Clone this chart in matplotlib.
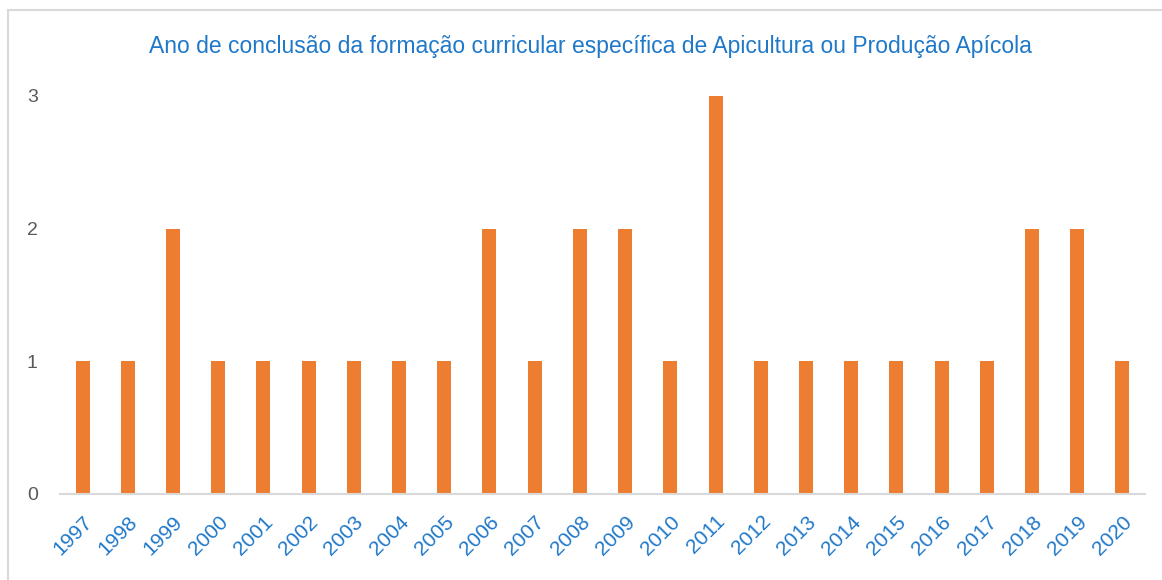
import matplotlib.pyplot as plt
from matplotlib.patches import Rectangle

anos = [str(a) for a in range(1997, 2021)]
contagem = [1, 1, 2, 1, 1, 1, 1, 1, 1, 2, 1, 2, 2, 1, 3, 1, 1, 1, 1, 1, 1, 2, 2, 1]

plt.rcParams['font.family'] = ['Liberation Sans', 'DejaVu Sans']

fig = plt.figure(figsize=(11.62, 5.8), dpi=100)
ax = fig.add_axes([0.0516, 0.1483, 0.9338, 0.6862])

ax.bar(range(len(anos)), contagem, width=0.31, color='#ED7D31')
ax.set_xlim(-0.5, len(anos) - 0.5)
ax.set_ylim(0, 3)
ax.set_yticks([0, 1, 2, 3])
ax.set_xticks(range(len(anos)))
ax.set_xticklabels(anos, rotation=45, ha='right', rotation_mode='anchor',
                   color='#1F78C8', fontsize=15)
ax.tick_params(axis='y', colors='#595959', labelsize=14, length=0, pad=16)
ax.tick_params(axis='x', length=0, pad=13)

for s in ['top', 'right', 'left']:
    ax.spines[s].set_visible(False)
ax.spines['bottom'].set_color('#D9D9D9')
ax.spines['bottom'].set_linewidth(1.5)

fig.text(0.508, 0.919, 'Ano de conclusão da formação curricular específica de Apicultura ou Produção Apícola',
         ha='center', va='center', color='#1F78C8', fontsize=16.5)

# moldura do gráfico
fig.patches.append(Rectangle((8 / 1162, -0.05), 1.2, 1 - 10 / 580 + 0.05,
                             transform=fig.transFigure, fill=False,
                             edgecolor='#D9D9D9', linewidth=1.5))

fig.savefig('out.png', dpi=100)
